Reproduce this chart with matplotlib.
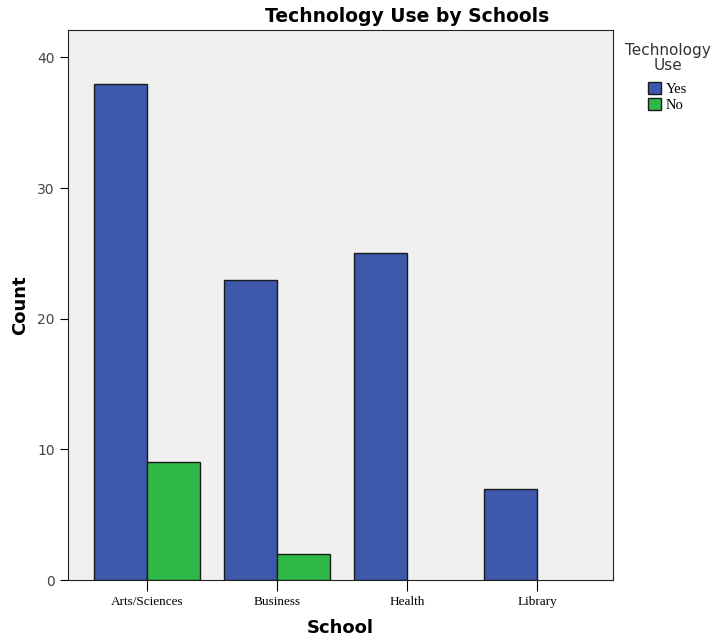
import numpy as np
import matplotlib.pyplot as plt
from matplotlib.patches import Patch

schools = ["Arts/Sciences", "Business", "Health", "Library"]
yes_counts = [38, 23, 25, 7]
no_counts = [9, 2, 0, 0]

fig = plt.figure(figsize=(7.13, 6.39), dpi=100)
ax = fig.add_axes([0.0954, 0.0923, 0.7644, 0.8607])
ax.set_facecolor("#F0F0F0")

x = np.arange(len(schools))
w = 0.408
ax.bar(x - w / 2, yes_counts, w, color="#3E58AC", edgecolor="#1a1a1a",
       linewidth=[1 if v else 0 for v in yes_counts])
ax.bar(x + w / 2, no_counts, w, color="#2EB848", edgecolor="#1a1a1a",
       linewidth=[1 if v else 0 for v in no_counts])

ax.set_xlim(-0.608, 3.585)
ax.set_ylim(0, 42.1)
ax.set_yticks([0, 10, 20, 30, 40])
ax.set_xticks(x)
ax.set_xticklabels(schools, family="Liberation Serif", fontsize=9.5)
ax.tick_params(axis="y", labelsize=10, labelcolor="#444444", length=6)
ax.tick_params(axis="x", length=8)
for s in ax.spines.values():
    s.set_color("#222222")

ax.set_xlabel("School", fontsize=13, fontweight="bold", labelpad=8)
ax.set_ylabel("Count", fontsize=13, fontweight="bold")
ax.yaxis.set_label_coords(-0.071, 0.5)
fig.text(407 / 713, 1 - 17 / 639, "Technology Use by Schools", fontsize=13.5,
         fontweight="bold", ha="center", va="center")

fig.text(668 / 713, 1 - 58 / 639, "Technology\nUse", fontsize=11, ha="center",
         va="center", color="#333333", linespacing=0.95)
handles = [Patch(facecolor="#3E58AC", edgecolor="#1a1a1a"),
           Patch(facecolor="#2EB848", edgecolor="#1a1a1a")]
fig.legend(handles, ["Yes", "No"], loc="upper left",
           bbox_to_anchor=(648 / 713, 1 - 82 / 639), frameon=False,
           prop={"family": "Liberation Serif", "size": 10.5},
           handlelength=0.9, handleheight=0.9, handletextpad=0.3,
           labelspacing=0.1, borderpad=0, borderaxespad=0)

fig.savefig("out.png", dpi=100)
